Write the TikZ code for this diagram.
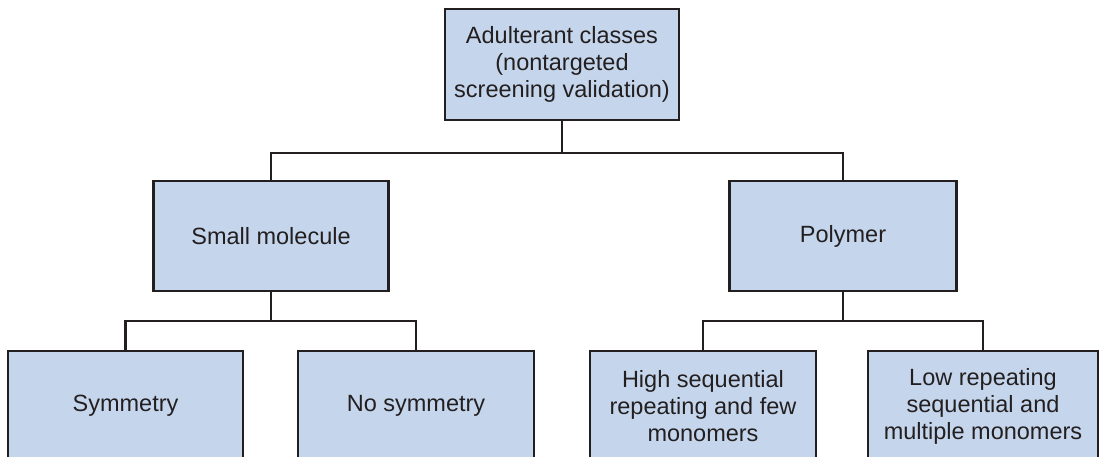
\documentclass[tikz,border=0pt]{standalone}
\usepackage{fontspec}
\setmainfont{Liberation Sans}
\definecolor{boxfill}{HTML}{C5D6EC}
\definecolor{ink}{HTML}{231F20}
\begin{document}
\begin{tikzpicture}[x=1pt,y=1pt,
  box/.style={draw=ink, fill=boxfill, line width=2.6pt, inner sep=0pt,
    text=ink, align=center, font=\fontsize{23.5}{27}\selectfont},
  link/.style={draw=ink, line width=2.6pt}]
\useasboundingbox (0,0) rectangle (1102,-456);
\begin{scope}
\clip (0,0) rectangle (1102,-456);
\node[box, minimum width=234, minimum height=111] (top) at (562,-64.5)
  {Adulterant classes\\(nontargeted\\screening validation)};
\node[box, minimum width=235, minimum height=110] (sm) at (271,-236) {Small molecule};
\node[box, minimum width=227, minimum height=110] (pol) at (843,-236) {Polymer};
\node[box, minimum width=235, minimum height=110] (sym) at (125.5,-406) {Symmetry};
\node[box, minimum width=236, minimum height=110] (nosym) at (416,-406) {No symmetry};
\node[box, minimum width=226, minimum height=110] (high) at (703,-406)
  {High sequential\\repeating and few\\monomers};
\node[box, minimum width=230, minimum height=110] (low) at (983,-406)
  {Low repeating\\sequential and\\multiple monomers};
\coordinate (j1) at (562,-153);
\coordinate (j2) at (271,-321);
\coordinate (j3) at (843,-321);
\draw[link] (top.south) -- (j1);
\draw[link] (sm.north) |- (j1) -| (pol.north);
\draw[link] (sm.south) -- (j2);
\draw[link] (sym.north) |- (j2) -| (nosym.north);
\draw[link] (pol.south) -- (j3);
\draw[link] (high.north) |- (j3) -| (low.north);
\end{scope}
\end{tikzpicture}
\end{document}
